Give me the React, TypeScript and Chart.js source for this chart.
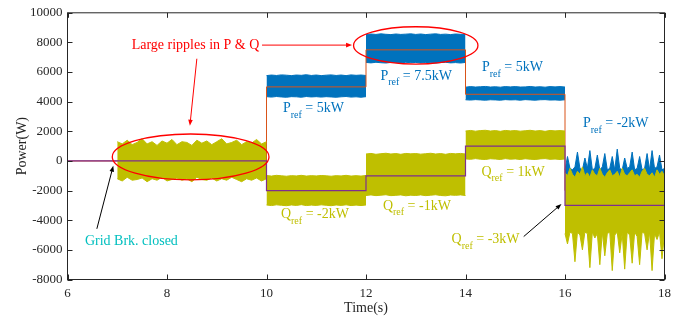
import { useEffect, useRef } from "react";
import { Chart, registerables } from "chart.js";

Chart.register(...registerables);

// ---------- data ----------
const refTimes = [6, 10, 12, 14, 16, 18];
const pRef = [0, 5000, 7500, 4500, -2000, -2000];
const qRef = [0, -2000, -1000, 1000, -3000, -3000];

const t7_10 = [7.0, 7.1, 7.2, 7.3, 7.4, 7.5, 7.6, 7.7, 7.8, 7.9, 8.0, 8.1, 8.2, 8.3, 8.4, 8.5, 8.6, 8.7, 8.8, 8.9, 9.0, 9.1, 9.2, 9.3, 9.4, 9.5, 9.6, 9.7, 9.8, 9.9, 10.0];
const t10_12 = [10.0, 10.1, 10.2, 10.3, 10.4, 10.5, 10.6, 10.7, 10.8, 10.9, 11.0, 11.1, 11.2, 11.3, 11.4, 11.5, 11.6, 11.7, 11.8, 11.9, 12.0];
const t12_14 = [12.0, 12.1, 12.2, 12.3, 12.4, 12.5, 12.6, 12.7, 12.8, 12.9, 13.0, 13.1, 13.2, 13.3, 13.4, 13.5, 13.6, 13.7, 13.8, 13.9, 14.0];
const t14_16 = [14.0, 14.1, 14.2, 14.3, 14.4, 14.5, 14.6, 14.7, 14.8, 14.9, 15.0, 15.1, 15.2, 15.3, 15.4, 15.5, 15.6, 15.7, 15.8, 15.9, 16.0];
const t16_18 = [16.0, 16.05, 16.1, 16.15, 16.2, 16.25, 16.3, 16.35, 16.4, 16.45, 16.5, 16.55, 16.6, 16.65, 16.7, 16.75, 16.8, 16.85, 16.9, 16.95, 17.0, 17.05, 17.1, 17.15, 17.2, 17.25, 17.3, 17.35, 17.4, 17.45, 17.5, 17.55, 17.6, 17.65, 17.7, 17.75, 17.8, 17.85, 17.9, 17.95, 18.0];

// measured active power P (upper / lower ripple envelope)
const pUp10_12 = [5760, 5800, 5770, 5810, 5790, 5760, 5800, 5780, 5820, 5770, 5800, 5760, 5790, 5810, 5770, 5800, 5760, 5810, 5780, 5800, 5770];
const pLo10_12 = [4340, 4310, 4350, 4320, 4300, 4340, 4330, 4300, 4350, 4320, 4340, 4310, 4340, 4320, 4300, 4330, 4350, 4310, 4330, 4300, 4340];
const pUp12_14 = [8530, 8570, 8540, 8580, 8550, 8530, 8570, 8540, 8560, 8580, 8540, 8570, 8530, 8560, 8580, 8540, 8560, 8530, 8570, 8550, 8540];
const pLo12_14 = [6650, 6620, 6660, 6630, 6610, 6650, 6640, 6620, 6660, 6630, 6650, 6610, 6650, 6630, 6610, 6640, 6660, 6620, 6640, 6610, 6650];
const pUp14_16 = [4980, 5020, 4990, 5010, 5030, 4990, 5010, 4980, 5020, 5000, 5020, 4990, 5000, 5030, 4990, 5010, 4980, 5020, 5000, 5020, 4990];
const pLo14_16 = [4130, 4110, 4140, 4120, 4100, 4130, 4120, 4100, 4140, 4120, 4130, 4100, 4140, 4120, 4100, 4130, 4140, 4110, 4120, 4100, 4130];
const pUp16_18 = [-600, 300, -500, -600, -400, 600, -500, -600, 200, -500, 700, -600, -500, 400, -600, -400, 500, -600, -500, 300, -600, 800, -500, -600, 200, -500, -400, 600, -600, -500, 300, -600, -500, 500, -600, 700, -500, -400, 400, -600, -500];
const pLo16_18 = [-1300, -1350, -1250, -1300, -1400, -1300, -1250, -1350, -1300, -1400, -1300, -1250, -1350, -1300, -1400, -1300, -1250, -1350, -1300, -1400, -1300, -1250, -1350, -1300, -1400, -1300, -1250, -1350, -1300, -1400, -1300, -1250, -1350, -1300, -1400, -1300, -1250, -1350, -1300, -1400, -1300];

// measured reactive power Q (upper / lower ripple envelope)
const qUp7_10 = [1300, 1150, 1400, 1100, 1250, 1500, 1150, 1300, 1050, 1350, 1200, 1450, 1100, 1300, 1250, 1050, 1400, 1200, 1350, 1100, 1300, 1500, 1150, 1250, 1400, 1100, 1300, 1200, 1450, 1150, 1300];
const qLo7_10 = [-1200, -1350, -1100, -1300, -1250, -1150, -1400, -1200, -1300, -1100, -1350, -1250, -1150, -1300, -1200, -1400, -1100, -1250, -1300, -1150, -1350, -1200, -1300, -1100, -1250, -1400, -1200, -1300, -1150, -1350, -1200];
const qUp10_12 = [-980, -1020, -970, -1000, -1030, -990, -1010, -970, -1020, -990, -1010, -980, -1000, -1030, -990, -1010, -970, -1020, -990, -1020, -980];
const qLo10_12 = [-2970, -3010, -2960, -2990, -3020, -2970, -3000, -2950, -3010, -2980, -3000, -2960, -2990, -3020, -2970, -3000, -2960, -3010, -2980, -3010, -2970];
const qUp12_14 = [470, 510, 450, 490, 520, 470, 500, 450, 510, 480, 500, 460, 490, 520, 470, 500, 450, 510, 480, 510, 470];
const qLo12_14 = [-2330, -2290, -2340, -2310, -2280, -2340, -2320, -2290, -2350, -2310, -2330, -2290, -2340, -2310, -2280, -2330, -2350, -2300, -2320, -2290, -2330];
const qUp14_16 = [2020, 2060, 2010, 2050, 2070, 2020, 2050, 2000, 2060, 2030, 2050, 2010, 2040, 2070, 2020, 2050, 2000, 2060, 2030, 2050, 2020];
const qLo14_16 = [140, 110, 160, 120, 100, 150, 130, 100, 160, 120, 140, 100, 150, 120, 100, 140, 160, 110, 130, 100, 140];
const qUp16_18 = [-800, -1000, -500, -900, -1100, -700, -900, -400, -1000, -800, -1100, -600, -900, -1000, -500, -900, -1100, -800, -600, -1000, -900, -700, -1100, -500, -900, -1000, -800, -600, -1000, -900, -1100, -700, -500, -900, -1000, -800, -1100, -600, -900, -700, -1000];
const qLo16_18 = [-4900, -5600, -4800, -4900, -6800, -4800, -5000, -6000, -4800, -4900, -7200, -4800, -5200, -4900, -7000, -4800, -6400, -4900, -4800, -7400, -5000, -4800, -6200, -4900, -7300, -4800, -5000, -6900, -4800, -5100, -7000, -4800, -4900, -6000, -4800, -7400, -4900, -5300, -4800, -6600, -4900];

const xMin = 6, xMax = 18, xStep = 2;
const yMin = -8000, yMax = 10000, yStep = 2000;

// ---------- styles ----------
const BLUE = "#0072BD";
const YELLOW = "#BFBF00";
const PURPLE = "#7E2F8E";
const ORANGE = "#D95319";
const RED = "#FF0000";
const CYAN = "#00BFBF";
const AXIS = "#262626";
const FONT = "'Liberation Serif', 'Times New Roman', serif";

// annotation text (positions in data units)
const refNotes = [
  { main: "P", sub: "ref", rest: " = 5kW", t: 10.33, v: 3280, color: BLUE },
  { main: "P", sub: "ref", rest: " = 7.5kW", t: 12.29, v: 5480, color: BLUE },
  { main: "P", sub: "ref", rest: " = 5kW", t: 14.33, v: 6040, color: BLUE },
  { main: "P", sub: "ref", rest: " = -2kW", t: 16.36, v: 2270, color: BLUE },
  { main: "Q", sub: "ref", rest: " = -2kW", t: 10.29, v: -3870, color: YELLOW },
  { main: "Q", sub: "ref", rest: " = -1kW", t: 12.34, v: -3300, color: YELLOW },
  { main: "Q", sub: "ref", rest: " = 1kW", t: 14.32, v: -990, color: YELLOW },
  { main: "Q", sub: "ref", rest: " = -3kW", t: 13.72, v: -5550, color: YELLOW },
];

function pts(times: number[], vals: number[]) {
  return times.map((t, i) => ({ x: t, y: vals[i] }));
}

function buildDatasets() {
  const ds: any[] = [];
  const band = (times: number[], up: number[], lo: number[], color: string, order: number) => {
    ds.push({
      data: pts(times, up), borderColor: color, backgroundColor: color,
      borderWidth: 1, pointRadius: 0, fill: "+1", order,
    });
    ds.push({
      data: pts(times, lo), borderColor: color, backgroundColor: color,
      borderWidth: 1, pointRadius: 0, fill: false, order,
    });
  };
  ds.push({
    data: pts(refTimes, qRef), borderColor: PURPLE, borderWidth: 1.2,
    pointRadius: 0, fill: false, stepped: true, order: 0,
  });
  band(t7_10, qUp7_10, qLo7_10, YELLOW, 1);
  band(t10_12, qUp10_12, qLo10_12, YELLOW, 1);
  band(t12_14, qUp12_14, qLo12_14, YELLOW, 1);
  band(t14_16, qUp14_16, qLo14_16, YELLOW, 1);
  band(t16_18, qUp16_18, qLo16_18, YELLOW, 1);
  ds.push({
    data: pts(refTimes, pRef), borderColor: ORANGE, borderWidth: 1,
    pointRadius: 0, fill: false, stepped: true, order: 2,
  });
  band(t10_12, pUp10_12, pLo10_12, BLUE, 3);
  band(t12_14, pUp12_14, pLo12_14, BLUE, 3);
  band(t14_16, pUp14_16, pLo14_16, BLUE, 3);
  band(t16_18, pUp16_18, pLo16_18, BLUE, 3);
  return ds;
}

function drawArrow(ctx: CanvasRenderingContext2D, x1: number, y1: number, x2: number, y2: number, color: string, head: number) {
  const a = Math.atan2(y2 - y1, x2 - x1);
  const c = Math.cos(a), s = Math.sin(a);
  ctx.strokeStyle = color;
  ctx.fillStyle = color;
  ctx.lineWidth = 1;
  ctx.beginPath();
  ctx.moveTo(x1, y1);
  ctx.lineTo(x2 - head * 0.7 * c, y2 - head * 0.7 * s);
  ctx.stroke();
  const w = head * 0.38;
  ctx.beginPath();
  ctx.moveTo(x2, y2);
  ctx.lineTo(x2 - head * c + w * s, y2 - head * s - w * c);
  ctx.lineTo(x2 - head * c - w * s, y2 - head * s + w * c);
  ctx.closePath();
  ctx.fill();
}

const overlay = {
  id: "overlay",
  afterDatasetsDraw(chart: any) {
    const { ctx, chartArea: ca, scales } = chart;
    const X = (t: number) => scales.x.getPixelForValue(t);
    const Y = (v: number) => scales.y.getPixelForValue(v);
    ctx.save();

    // frame and inward ticks
    ctx.strokeStyle = AXIS;
    ctx.lineWidth = 1;
    ctx.strokeRect(ca.left, ca.top, ca.right - ca.left, ca.bottom - ca.top);
    const tl = 5;
    ctx.beginPath();
    for (let t = xMin; t <= xMax; t += xStep) {
      const px = Math.round(X(t)) + 0.5;
      ctx.moveTo(px, ca.bottom); ctx.lineTo(px, ca.bottom - tl);
      ctx.moveTo(px, ca.top); ctx.lineTo(px, ca.top + tl);
    }
    for (let v = yMin; v <= yMax; v += yStep) {
      const py = Math.round(Y(v)) + 0.5;
      ctx.moveTo(ca.left, py); ctx.lineTo(ca.left + tl, py);
      ctx.moveTo(ca.right, py); ctx.lineTo(ca.right - tl, py);
    }
    ctx.stroke();

    // ellipses
    ctx.strokeStyle = RED;
    ctx.lineWidth = 1.3;
    const ell = (t1: number, t2: number, v1: number, v2: number) => {
      const x1 = X(t1), x2 = X(t2), y1 = Y(v1), y2 = Y(v2);
      ctx.beginPath();
      ctx.ellipse((x1 + x2) / 2, (y1 + y2) / 2, Math.abs(x2 - x1) / 2, Math.abs(y2 - y1) / 2, 0, 0, Math.PI * 2);
      ctx.stroke();
    };
    ell(6.9, 10.05, 1820, -1280);
    ell(11.75, 14.25, 9060, 6540);

    // red title + arrows
    ctx.font = `14px ${FONT}`;
    ctx.fillStyle = RED;
    ctx.textBaseline = "alphabetic";
    ctx.textAlign = "left";
    ctx.fillText("Large ripples in P & Q", X(7.29), Y(7560));
    drawArrow(ctx, X(9.91), Y(7820), X(11.72), Y(7820), RED, 6);
    drawArrow(ctx, X(8.6), Y(6900), X(8.46), Y(2380), RED, 6);

    // black arrows
    drawArrow(ctx, X(6.59), Y(-4580), X(6.92), Y(-320), "#000000", 6);
    drawArrow(ctx, X(15.17), Y(-5100), X(15.93), Y(-2900), "#000000", 6);

    ctx.font = `14px ${FONT}`;
    ctx.fillStyle = CYAN;
    ctx.fillText("Grid Brk. closed", X(6.35), Y(-5660));

    // reference labels with subscripts
    for (const n of refNotes) {
      let x = X(n.t);
      const y = Y(n.v);
      ctx.fillStyle = n.color;
      ctx.font = `14px ${FONT}`;
      ctx.fillText(n.main, x, y);
      x += ctx.measureText(n.main).width;
      ctx.font = `10px ${FONT}`;
      ctx.fillText(n.sub, x, y + 5.5);
      x += ctx.measureText(n.sub).width;
      ctx.font = `14px ${FONT}`;
      ctx.fillText(n.rest, x, y);
    }
    ctx.restore();
  },
  afterDraw(chart: any) {
    const { ctx, chartArea: ca } = chart;
    ctx.save();
    ctx.fillStyle = AXIS;
    ctx.font = `14px ${FONT}`;
    ctx.textAlign = "center";
    ctx.textBaseline = "middle";
    ctx.fillText("Time(s)", (ca.left + ca.right) / 2, 308);
    ctx.translate(22, (ca.top + ca.bottom) / 2);
    ctx.rotate(-Math.PI / 2);
    ctx.fillText("Power(W)", 0, 0);
    ctx.restore();
  },
};

export default function App() {
  const ref = useRef<HTMLCanvasElement>(null);
  useEffect(() => {
    document.body.style.margin = "0";
    const canvas = ref.current;
    if (!canvas) return;
    const chart = new Chart(canvas, {
      type: "line",
      data: { datasets: buildDatasets() },
      options: {
        animation: false,
        responsive: false,
        maintainAspectRatio: false,
        devicePixelRatio: 1,
        layout: { padding: { top: 11.5, right: 31.5, left: 0, bottom: 0 } },
        plugins: { legend: { display: false }, tooltip: { enabled: false } },
        elements: { point: { radius: 0 }, line: { tension: 0 } },
        scales: {
          x: {
            type: "linear",
            min: xMin,
            max: xMax,
            grid: { display: false, drawTicks: false },
            border: { display: false },
            ticks: {
              stepSize: xStep,
              padding: 6,
              maxRotation: 0,
              autoSkip: false,
              color: AXIS,
              font: { family: FONT, size: 13 },
              callback: (v: any) => String(v),
            },
            afterFit: (s: any) => { s.height = 40.5; },
          },
          y: {
            type: "linear",
            min: yMin,
            max: yMax,
            grid: { display: false, drawTicks: false },
            border: { display: false },
            ticks: {
              stepSize: yStep,
              padding: 5,
              autoSkip: false,
              color: AXIS,
              font: { family: FONT, size: 13 },
              callback: (v: any) => String(v),
            },
            afterFit: (s: any) => { s.width = 67.5; },
          },
        },
      } as any,
      plugins: [overlay],
    });
    return () => chart.destroy();
  }, []);
  return (
    <div style={{ width: 696, height: 320 }}>
      <canvas ref={ref} width={696} height={320} style={{ display: "block" }} />
    </div>
  );
}
